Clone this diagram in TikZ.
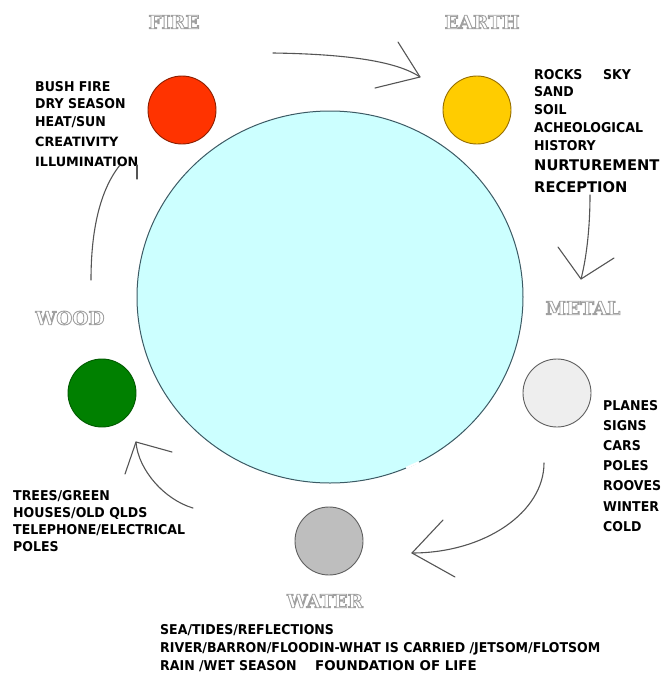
\documentclass[tikz,border=0pt]{standalone}
\usepackage{fontspec}
\setmainfont{DejaVu Sans}
\newfontfamily\notefont[FakeStretch=0.93]{DejaVu Sans}
\newfontfamily\keyfont{DejaVu Sans}
\newfontfamily\elemfont{DejaVu Serif}
\usepackage{tikz}

\definecolor{firefill}{RGB}{255,51,0}
\definecolor{fireline}{RGB}{140,30,0}
\definecolor{earthfill}{RGB}{255,204,0}
\definecolor{earthline}{RGB}{150,110,0}
\definecolor{metalfill}{RGB}{238,238,238}
\definecolor{waterfill}{RGB}{190,190,190}
\definecolor{greyline}{RGB}{95,95,95}
\definecolor{woodfill}{RGB}{0,128,0}
\definecolor{woodline}{RGB}{0,90,0}
\definecolor{corefill}{RGB}{204,255,255}
\definecolor{coreline}{RGB}{60,90,100}
\definecolor{flowgray}{RGB}{85,85,85}
\definecolor{labelgray}{RGB}{160,160,160}

% outlined (hollow) text
\newcommand\hollow[1]{\special{pdf:literal direct 1 Tr 0.9 w}#1\special{pdf:literal direct 0 Tr}}

\begin{document}
\begin{tikzpicture}[x=1pt,y=-1pt,
    element/.style={circle,draw,line width=0.9pt,minimum size=68pt,inner sep=0pt},
    note/.style={font=\notefont\bfseries\fontsize{13.5}{16}\selectfont,anchor=base west,inner sep=0pt,text depth=0pt},
    keynote/.style={font=\keyfont\bfseries\fontsize{#1}{#1}\selectfont,anchor=base west,inner sep=0pt,text depth=0pt},
    elemlabel/.style={font=\elemfont\bfseries\fontsize{18.5}{18.5}\selectfont,inner sep=0pt,text=labelgray},
    flow/.style={draw=flowgray,line width=1.1pt,line cap=round}]
  \useasboundingbox (0,0) rectangle (663,673);

  \draw[draw=coreline,fill=corefill,line width=1pt] (330,297) ellipse [x radius=193, y radius=186];
  \draw[white,line width=2pt] (406,467.9) -- (419,462.1);

  \node[element,fill=firefill,draw=fireline] (fire) at (182,110) {};
  \node[element,fill=earthfill,draw=earthline] (earth) at (477,110) {};
  \node[element,fill=metalfill,draw=greyline] (metal) at (557,393) {};
  \node[element,fill=waterfill,draw=greyline] (water) at (329,541) {};
  \node[element,fill=woodfill,draw=woodline] (wood) at (102,393) {};

  \node[elemlabel] (fire-label) at (174,22) {\hollow{FIRE}};
  \node[elemlabel] (earth-label) at (482,22) {\hollow{EARTH}};
  \node[elemlabel] (metal-label) at (583,308) {\hollow{METAL}};
  \node[elemlabel] (water-label) at (325,601) {\hollow{WATER}};
  \node[elemlabel] (wood-label) at (70,318) {\hollow{WOOD}};

  % fire
  \foreach \t [count=\i from 0] in {BUSH FIRE, DRY SEASON, HEAT/SUN}
    \node[note] (fire-\i) at (35,{91+17.6*\i}) {\t};
  \node[keynote=12.8] (fire-key1) at (35,146.5) {CREATIVITY};
  \node[keynote=12.8] (fire-key2) at (35,166.5) {ILLUMINATION};

  % earth
  \foreach \t [count=\i from 0] in {ROCKS, SAND, SOIL, ACHEOLOGICAL, HISTORY}
    \node[note] (earth-\i) at (534,{79+17.75*\i}) {\t};
  \node[note] (earth-sky) at (603,79) {SKY};
  \node[keynote=14.7] (earth-key1) at (534,170) {NURTUREMENT};
  \node[keynote=14.7] (earth-key2) at (534,192) {RECEPTION};

  % metal
  \foreach \t [count=\i from 0] in {PLANES, SIGNS, CARS, POLES, ROOVES, WINTER, COLD}
    \node[note] (metal-\i) at (603,{410.5+20.1*\i}) {\t};

  % wood
  \foreach \t [count=\i from 0] in {TREES/GREEN, HOUSES/OLD QLDS, TELEPHONE/ELECTRICAL, POLES}
    \node[note] (wood-\i) at (13,{500+17.3*\i}) {\t};

  % water
  \foreach \t [count=\i from 0] in {SEA/TIDES/REFLECTIONS, RIVER/BARRON/FLOODIN-WHAT IS CARRIED /JETSOM/FLOTSOM, RAIN /WET SEASON}
    \node[note] (water-\i) at (160,{634+18.2*\i}) {\t};
  \node[keynote=13.4] (water-key) at (315,670.4) {FOUNDATION OF LIFE};

  % cycle arrows
  \coordinate (fe-start) at (273,53);
  \coordinate (fe-tip) at (420,77);
  \draw[flow] (fe-start) .. controls (340,54) and (395,60) .. (fe-tip);
  \draw[flow] (fe-tip) -- ++(-22,-35) (fe-tip) -- ++(-45,11);

  \coordinate (em-start) at (590,195);
  \coordinate (em-tip) at (581,279);
  \draw[flow] (em-start) .. controls (590,230) and (586,260) .. (em-tip);
  \draw[flow] (em-tip) -- ++(-23,-32) (em-tip) -- ++(33,-21);

  \coordinate (mw-start) at (544,463);
  \coordinate (mw-tip) at (412,553);
  \draw[flow] (mw-start) .. controls (544,512) and (485,553) .. (mw-tip);
  \draw[flow] (mw-tip) -- ++(31,-33) (mw-tip) -- ++(43,24);

  \coordinate (ww-start) at (193,508);
  \coordinate (ww-tip) at (136,442);
  \draw[flow] (ww-start) .. controls (165,500) and (138,470) .. (ww-tip);
  \draw[flow] (ww-tip) -- ++(-11,32) (ww-tip) -- ++(36,10);

  \coordinate (wf-start) at (91,280);
  \coordinate (wf-end) at (120,165);
  \draw[flow] (wf-start) .. controls (91,230) and (100,190) .. (wf-end);
  \draw[flow] (137,165) -- (137,179);
\end{tikzpicture}
\end{document}
